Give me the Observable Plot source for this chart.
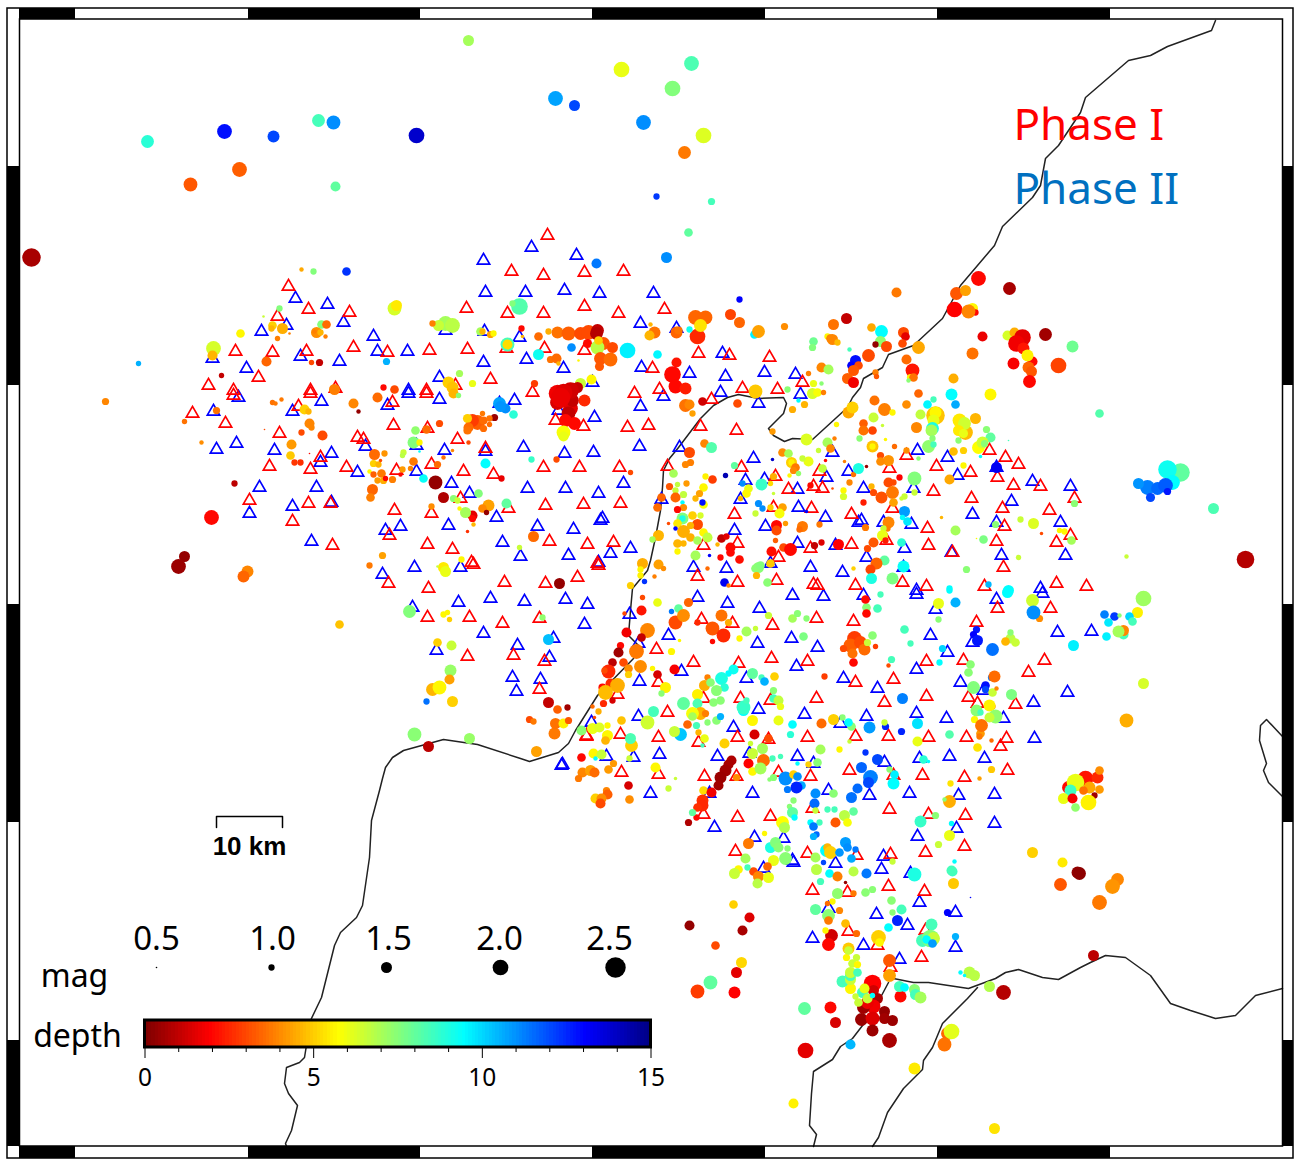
<!DOCTYPE html>
<html>
<head>
<meta charset="utf-8">
<script src="https://cdn.jsdelivr.net/npm/d3@7"></script>
<script src="https://cdn.jsdelivr.net/npm/@observablehq/plot@0.6"></script>
<style>html,body{margin:0;padding:0;background:#fff}svg{display:block}</style>
</head>
<body>
<div id="chart"></div>
<script>
// Map units: grid easting / southing.
const coastMain = [[1215,20],[1211,30],[1167,46],[1150,55],[1128,60],[1085,97],[1080,112],[1058,145],[1045,158],[1040,185],[1032,197],[1002,226],[994,245],[960,285],[942,318],[913,345],[888,354],[882,367],[863,378],[860,387],[852,397],[847,407],[812,439],[792,438],[784,441],[773,435],[768,428],[783,413],[786,403],[783,397],[758,398],[738,394],[727,397],[713,405],[700,418],[678,447],[669,458],[663,470],[662,487],[660,510],[655,537],[650,560],[647,570],[632,588],[630,610],[628,635],[638,645],[633,658],[597,695],[575,730],[568,743],[558,752],[529,761],[520,758],[477,744],[443,739],[403,750],[392,757],[385,767],[382,778],[379,790],[371,820],[369,857],[362,905],[356,917],[340,932],[334,945],[321,997],[310,1020],[304,1057],[299,1062],[286,1067],[284,1083],[288,1093],[297,1105],[291,1130],[285,1143],[286,1146]];
const coastSouth = [[888,982],[880,997],[862,1025],[852,1038],[840,1046],[832,1059],[813,1071],[811,1093],[809,1125],[816,1134],[813,1146]];
const coastGulf = [[977,987],[967,998],[942,1023],[932,1047],[923,1060],[922,1069],[903,1088],[887,1112],[878,1137],[872,1146]];
const coastEast = [[893,978],[913,982],[928,982],[968,988],[995,978],[1005,972],[1018,969],[1042,977],[1058,979],[1080,967],[1090,962],[1105,955],[1125,957],[1150,975],[1170,1003],[1190,1010],[1215,1018],[1235,1015],[1255,995],[1282,988]];
const coastIsle = [[1282,736],[1266,719],[1260,725],[1259,740],[1266,763],[1263,770],[1268,782],[1282,796]];

const stationsPhaseI = [[288,286],[308,309],[349,312],[277,316],[235,351],[272,352],[306,351],[353,347],[387,352],[429,350],[258,377],[208,385],[233,390],[310,390],[335,388],[426,390],
[192,413],[225,423],[233,395],[279,433],[298,406],[310,393],[357,437],[363,439],[320,457],[269,466],[310,469],[346,467],[392,402],[426,393],[393,425],[427,428],[457,439],[396,470],[431,464],[463,471],[493,474],[543,467],[579,467],[532,392],[555,420],[583,426],[485,448],[249,500],[308,503],[330,503],[292,521],[332,545],[389,535],[394,510],[431,513],[427,544],[452,549],[460,498],[508,508],[545,505],[583,504],[549,541],[587,544],[471,562],[473,564],[388,583],[428,588],[504,582],[545,583],[577,577],[597,563],[427,617],[469,617],[502,623],[539,618],[467,656],[513,655],[544,661],[539,689],[586,735],
[547,235],[511,271],[543,275],[584,272],[623,271],[466,308],[507,313],[543,313],[584,306],[618,313],[664,309],[506,348],[544,348],[584,350],[467,349],[490,379],[455,385],[652,368],[634,393],[659,389],[698,353],[729,355],[769,357],[802,382],[742,388],[777,389],[711,399],[627,427],[648,425],[700,426],[736,430],[667,466],[741,467],[775,476],[819,471],[813,486],[822,488],[788,489],[619,467],[620,503],[734,514],[811,508],[851,514],[773,507],[737,543],[703,545],[810,548],[851,544],[778,557],[697,576],[737,582],[776,580],[813,584],[817,585],[855,585],[598,565],[613,542],
[906,455],[936,466],[989,450],[1005,457],[1018,464],[889,468],[970,472],[997,477],[1013,485],[1040,486],[933,491],[971,498],[1074,498],[1002,508],[1049,510],[892,508],[927,528],[1004,526],[886,540],[928,545],[952,552],[996,541],[1056,542],[1070,535],[1003,567],[902,582],[926,586],[984,586],[1056,583],[1086,586],
[701,619],[732,623],[772,625],[816,618],[853,621],[656,649],[693,662],[738,663],[771,658],[807,661],[926,661],[658,682],[855,682],[893,679],[816,698],[884,702],[926,696],[703,698],[740,698],[770,700],[667,712],[617,694],[620,734],[658,737],[698,742],[737,737],[768,739],[807,737],[855,736],[888,736],[928,737],[586,736],[621,772],[658,774],[704,776],[736,776],[778,772],[810,776],[849,770],[893,775],[922,775],[889,809],[703,814],[737,817],[770,816],[812,808],[735,851],[807,853],[856,855],[890,854],[925,852],[812,890],[847,892],[888,886],[924,891],
[997,608],[1050,608],[976,622],[963,660],[1044,660],[1028,672],[968,697],[977,703],[1015,704],[966,737],[1006,738],[1000,746],[964,777],[1007,770],[928,814],[965,815],[964,846],
[848,931],[877,945],[921,957],[890,967],[925,930]];

const stationsPhaseII = [[295,298],[327,304],[343,322],[286,325],[261,331],[373,336],[212,358],[300,356],[339,361],[377,351],[407,351],[246,368],[408,390],
[213,411],[238,397],[292,411],[321,401],[387,405],[408,393],[439,399],[236,443],[216,449],[274,450],[365,446],[331,453],[320,462],[357,472],[416,471],[444,450],[416,445],[485,451],[523,447],[564,453],[593,452],[514,400],[499,403],[594,417],[558,410],[259,487],[316,487],[292,506],[331,502],[249,513],[311,541],[451,483],[469,493],[527,488],[565,488],[598,493],[400,526],[385,530],[448,525],[496,517],[537,526],[573,529],[600,520],[502,542],[520,556],[568,555],[598,562],[414,567],[460,567],[382,574],[412,607],[458,602],[490,598],[524,601],[565,599],[587,604],[584,624],[483,633],[517,645],[553,638],[549,657],[436,650],[512,677],[540,679],[516,691],[561,765],
[531,247],[576,255],[483,260],[485,292],[525,292],[564,290],[599,293],[653,293],[640,323],[676,328],[445,330],[484,331],[519,337],[722,353],[526,359],[483,362],[563,368],[641,367],[689,373],[725,376],[764,372],[795,374],[439,377],[592,382],[720,392],[800,394],[663,396],[640,406],[758,403],[639,446],[679,447],[753,458],[832,452],[848,471],[745,480],[764,479],[826,477],[623,483],[797,489],[740,499],[661,499],[798,507],[602,518],[825,517],[858,522],[734,530],[765,526],[610,553],[630,548],[693,567],[726,568],[797,543],[835,545],[810,567],[842,572],[770,563],
[917,450],[947,457],[957,475],[996,467],[1032,481],[1070,486],[913,488],[863,488],[1011,501],[972,514],[1060,522],[996,522],[911,524],[883,522],[861,520],[904,548],[951,552],[866,557],[1001,555],[1065,555],[903,567],[1040,588],[916,590],
[629,614],[697,597],[727,603],[759,608],[792,595],[823,596],[863,595],[916,594],[668,635],[757,643],[791,638],[817,647],[638,643],[930,635],[796,666],[916,669],[639,681],[843,678],[681,671],[746,678],[877,688],[758,709],[804,714],[866,716],[916,713],[638,716],[591,722],[840,723],[733,727],[717,756],[659,754],[633,757],[606,756],[562,764],[797,756],[749,753],[813,763],[884,762],[919,758],[650,793],[828,790],[869,795],[909,793],[709,793],[752,793],[714,827],[754,837],[783,838],[792,860],[835,863],[883,856],[881,869],[910,873],[763,868],[917,836],[919,902],[828,908],[876,914],[907,925],
[935,609],[996,599],[1042,593],[1057,632],[1091,631],[972,642],[947,652],[960,682],[1067,692],[983,690],[1033,702],[946,718],[1003,718],[1034,738],[949,756],[984,758],[958,795],[994,794],[956,828],[994,823],[955,912],
[793,862],[812,938],[863,945],[955,947],[899,959]];

// [easting, southing, magnitude, depth km]
const quakes = [
[147,141,1.7,8.8],[224,131,1.9,12.8],[273,136,1.6,12],[318,120,1.7,8.4],[333,122,1.8,11],[416,135,2,13.8],[190,184,1.8,3.2],[239,169,1.9,3.3],[335,186,1.4,8],[31,257,2.3,.6],[301,269,.8,4.4],[313,271,1,7.5],[346,271,1.25,12.3],[394,308,1.8,6.3],[396,305,1.5,5.4],[279,308,1,7.5],[263,316,.6,6.5],[272,325,1.25,5],[282,328,1.5,4.5],[240,333,1.25,5.6],[271,328,1,4.6],[289,333,.6,3.8],[277,338,.9,3.8],[321,324,1.25,7.5],[326,324,1.25,3.5],[316,332,1.5,4],[320,332,1,4.6],[314,331,.8,3.8],[325,336,.8,3.8],[213,348,1.9,6.3],[212,355,1.4,4.6],[138,363,.9,10.5],[266,361,1.4,3.4],[221,375,.9,1],[311,362,.9,3],[319,362,1.1,1],[386,361,1.1,10.5],[383,387,1,2],[394,389,1.25,3],[334,389,1.5,3.8],[105,401,1.1,3.9],
[468,40,1.5,7],[621,69,2,6],[691,63,1.9,8.3],[672,88,2,7.5],[555,98,1.9,10.7],[574,105,1.5,12],[643,122,1.9,11],[703,135,2,6.2],[684,152,1.7,3.7],[656,196,1,12.2],[711,201,1.1,8.4],[688,232,1.25,8],[666,257,1.5,11],[596,263,1.4,11.3],[739,299,1,13],[896,292,1.4,3.7],[978,278,1.9,2],[1009,288,1.7,.6],[956,293,1.7,3.2],[965,290,1.5,4.3],
[519,306,2.1,8.2],[512,303,1,7.5],[445,323,1.9,7],[452,325,1.9,6.7],[438,325,1.5,6.5],[432,323,1,3.8],[480,331,1.25,7],[482,331,1,4.6],[490,334,1.1,4.3],[493,333,1,5.6],[507,344,1.8,8.4],[507,344,1.4,5.2],[521,328,1,2],[522,336,.7,4.6],[538,354,1.5,9.2],[538,336,1.25,3.5],[548,331,1,4.5],[571,347,1.25,11],
[557,332,1.6,3.6],[568,333,1.8,3.3],[580,333,1.7,3],[588,332,1.9,3],[597,330,1.7,1],[596,333,1.7,.8],[587,343,1.3,2],[603,343,1.7,3.2],[612,347,1.5,3],[597,347,1.8,6.7],[598,340,1.25,5],[600,358,1.7,3.2],[610,359,1.8,3.5],[599,366,1.3,3.2],[627,350,2,9.6],[550,359,1.1,3.6],[556,358,1.4,3.5],[558,363,.8,4.6],[578,360,.6,5.6],[657,354,1.25,9.5],[676,362,1.4,2.2],[672,374,2.1,2],[675,386,1.8,2],[685,388,1.6,2.3],[650,324,.8,4.6],[654,332,1.6,3.6],[649,335,1.4,4.6],
[695,317,1.9,3.4],[705,317,1.8,3.4],[697,336,2,2.5],[700,325,1.7,5.3],[689,329,1,9.2],[676,332,1.6,3.4],[678,330,1.2,3.6],[730,314,1.5,2.9],[739,322,1.5,3.4],[754,334,1.25,9.6],[758,331,1.7,4.3],[784,326,1.1,4],[833,324,1.5,3.6],[846,318,1.5,1],[827,336,1,5.6],[830,338,1.25,3.8],[832,339,1.5,3.9],[837,342,1,4.7],[813,341,1.25,7.8],[812,347,1.1,7.5],[849,349,.8,8.4],[855,360,1.5,12.8],[851,365,1.25,13],[858,365,1.25,3],[853,370,1.5,3.2],[847,378,1.5,3.3],[853,382,1.5,1.7],[821,367,1.4,3.9],[828,369,1.4,7],[808,373,.9,3.8],[813,383,1.1,6],[821,383,.8,7.4],[812,393,1.5,6.3],[817,392,1.25,5.8],[823,392,.9,3.8],[804,404,1.1,4.6],[787,389,1,7.4],[798,400,.8,9.4],[792,409,1.1,4.5],[848,412,1.6,4.4],[852,407,1.6,5],[836,424,.9,5.6],[859,438,1,7.4],[806,439,1.6,6.2],[772,431,1,4.2],[827,442,1.4,7],[834,438,.8,3.8],[830,448,1.25,3.9],[818,450,.9,6.5],
[755,391,1.8,4.9],[737,403,1.25,3],[702,401,1.25,1.2],[692,413,1,4.3],[685,405,1.7,3.6],[689,404,1.4,3.9],[704,443,1.25,3.9],[711,447,1.5,8.2],[689,452,1.5,3],[690,462,1.1,3.8],[685,464,1.1,3.9],[734,465,1.1,8],[725,475,.9,14.2],[673,473,1.25,7],[712,479,1.25,2.8],[705,476,1,5.5],[703,487,1.25,5.6],[686,483,1,4.2],[677,484,.9,6.6],[669,486,1.1,3.2],[675,490,1,6.5],[683,494,1.1,6.6],[675,497,1.4,3.4],[695,498,1,4.6],[699,493,1.1,4.3],[661,497,1.25,3.4],[657,507,1.25,3.5],[703,504,1.25,5.8],[702,502,1,12.8],[682,502,.8,9.4],[683,507,1.1,4],[677,509,1.1,2],[700,515,1,6.3],[682,518,1.6,7.5],[682,518,1,9],[692,515,1.25,5],[697,524,1.5,3],[690,525,1.1,4.6],[677,523,1.25,5.4],[683,531,1.7,4.5],[703,532,1.25,5.6],[707,537,1.4,6.6],[690,537,1.25,4.5],[697,540,1.25,7],[677,543,1.25,4.6],[683,543,1,4.6],[677,551,1,5.6],[695,555,1.4,7],[658,535,1.5,4.6],[652,539,1,7],[668,523,.7,3],[642,563,1.5,4.5],[658,564,1.4,4.3],[663,568,.9,4],[640,569,1,5.6],[640,575,1,5.5],[654,576,.8,3.8],[644,581,.9,12.3],[630,585,1.1,5],[675,528,.8,13],
[717,544,.8,4.6],[721,538,1.25,1],[726,536,1,1.5],[730,547,1.4,2],[730,552,1.25,2],[720,557,1,2],[739,559,1.25,2.1],[709,555,.7,13],[707,568,.8,3.5],[724,582,1.25,13.2],[728,585,.8,3.8],[771,551,1.4,2.1],[783,547,1.25,3],[790,549,1.7,2],[814,545,1.1,1],[821,542,1,1.4],[838,544,1.5,1.9],[853,568,.8,5],[776,525,1.5,2],[776,530,1.4,3],[775,540,.9,3.3],[802,526,1.5,3.7],[799,529,1,3.5],[819,524,1,3.7],[785,523,.9,4.2],
[758,503,1.1,11],[762,508,1,11],[770,507,1,5],[782,507,1.25,4.3],[779,513,1.4,5.8],[755,513,1,6.5],[806,511,.7,13],[761,484,1.6,8.6],[742,483,1,11],[748,488,1.25,6],[746,493,1.25,5.6],[740,498,.9,4.6],[770,483,.9,5.2],[773,476,1.1,4.5],[789,475,.8,5.6],[773,493,.7,6.5],[772,459,.7,13.8],
[782,452,1.25,4],[788,453,1.25,7],[791,462,1.5,5],[791,462,1,5.5],[795,467,1.25,3.7],[793,470,1.1,3.9],[798,473,.9,7.3],[808,461,1.4,6],[802,458,1,6.5],[822,468,1.25,6.6],[810,485,1,2],[832,488,.6,3],[825,460,.7,2],[844,461,.7,3.8],[853,474,.9,3.6],[858,468,1.5,9],[849,482,1,3.9],[843,490,1,5.6],[843,496,1.1,6.3],
[758,567,1.5,7.4],[755,568,1.25,7.4],[760,565,1.25,7.5],[770,563,1.25,4.9],[767,582,1.25,7.4],[756,575,1.1,4.6],
[448,382,1.6,5],[452,387,1.6,4.8],[453,393,1.4,4.6],[459,373,1.1,7],[472,383,1.1,6],[458,395,.9,7.4],[534,383,1.1,2.8],[580,383,1.5,6.5],[591,379,1.4,5.6],
[577,387,1.5,1],[557,402,1.9,1.3],[570,408,1.9,1.5],[572,400,1.7,1],[570,390,2.1,1.2],[557,393,2.2,1.7],[563,392,2.2,1.4],[560,397,2.4,1.6],[567,413,1.5,1],[568,413,1.8,1],[565,420,1.7,2],[574,423,1.7,2],[584,400,1.6,2.5],[563,432,1.8,5.8],[563,436,1.4,6],
[499,403,1.7,10.7],[505,408,1.4,11],[500,406,1.5,10.9],[513,414,1.25,8.8],[494,417,1.1,.4],[477,422,1.9,3.3],[472,420,1.7,2.8],[483,420,1.2,3.5],[467,418,1.3,5],[482,413,.9,3.7],[489,424,.9,3.5],[468,427,1.4,3.5],[467,430,1.2,3.6],[483,428,1.1,3.5],[489,418,1,3.6],[439,423,1.1,3],[468,442,.8,3],[452,450,.7,3.9],[443,457,.8,3.5],[437,464,1.1,3.5],[485,463,1.4,9.4],[531,459,1,8.6],[556,459,1,3],[630,472,.9,3],[501,478,1,1.6],[435,482,1.8,.3],[443,497,1.5,.7],[453,498,1.1,7.4],[457,500,1,6.5],[478,493,1.25,7.5],[488,505,1.6,4.3],[482,508,1.25,3.9],[506,503,1.4,8],[472,515,1.4,1.5],[472,518,1.1,2],[465,512,1.5,7],[459,508,.8,5.6],[486,512,.9,.3],[473,524,.8,4.6],[467,531,.7,2.6],[431,506,1,4],[533,536,1.5,3.5],[519,547,.9,6.5],[461,559,1,5.6],[443,567,1.5,5.4],[445,571,1.5,6],[559,583,1.5,.3],[437,566,.6,6.5],
[216,410,1.1,3.6],[184,421,.9,3.6],[201,442,.8,4],[264,429,.5,3],[272,402,.9,3.6],[275,403,.8,3.7],[281,399,.8,3.7],[304,409,1.4,5],[308,411,1,4.6],[309,423,1.4,3.9],[311,427,1,3.9],[301,432,1,3],[322,435,1.4,3],[291,444,1.4,4.2],[290,455,1.25,4.9],[309,453,.5,2],[294,462,1,2.7],[300,462,1,2.6],[234,483,1,.9],[211,517,1.9,2],[184,556,1.5,.3],[178,566,1.9,.4],[247,571,1.6,3.9],[243,576,1.6,3.4],[339,624,1.25,4.8],
[353,403,1.4,3.9],[358,411,.8,.3],[377,397,1.4,3.5],[374,454,1.5,3.5],[384,453,1,4.1],[373,463,1.1,5],[378,464,1,4.6],[380,460,.7,3],[369,471,.8,5.6],[373,474,1,3.3],[381,473,1.25,3.7],[377,480,1,4.2],[383,480,1.1,4.5],[392,479,1.1,3.8],[385,478,.9,2],[400,474,.8,2],[372,489,1.5,3.4],[370,497,1.25,3.8],[410,468,.9,3.9],[402,469,1,4.2],[403,452,1,6.5],[402,455,.9,6.7],[415,430,1.25,7.3],[426,429,1.25,3.5],[413,442,1.6,7.5],[419,442,1,5.6],[419,451,.6,9.4],[413,461,1.25,3.7],[423,478,1.25,9.3],[382,555,1.1,4.3],[369,565,1,3.7],
[409,611,1.7,7.5],[443,614,1,5.6],[447,612,.9,5.6],[449,619,.9,5],[542,617,1,7.3],[548,639,1.5,10.3],[437,642,1.25,5],[451,645,1.4,6.5],[450,670,1.6,7.2],[449,679,1.4,4.3],[432,689,1.7,4.6],[439,687,1.8,5.6],[426,701,1,11.4],[452,701,1.5,5],[414,734,1.8,7.4],[428,746,1.5,.9],[469,738,1.5,7.2],[548,702,1.5,1],[567,707,1,.5],[557,709,1.25,3.3],[529,719,1.1,3],[533,721,1,3.7],[554,733,1.6,3.7],[555,723,1.5,3.6],[563,723,1.4,5.5],[568,720,1.1,3.2],[536,751,1.5,4.3],
[641,610,1.4,2.2],[642,597,.9,3],[657,602,1.25,6],[671,611,.9,11.3],[678,608,1.25,8],[675,622,1.8,3],[683,615,1.7,4],[688,602,1.3,3.4],[647,630,1.9,3.9],[641,637,1.25,1],[626,632,1.4,1.7],[624,613,.8,3],[636,651,1.9,3.7],[620,645,1.1,2],[618,652,1.4,.5],[612,662,1.25,.9],[623,662,1.25,3],[608,671,1.8,2.5],[628,668,1.25,4],[640,666,1.7,4],[604,670,1,3],[610,683,1.4,2.5],[602,687,1.2,2],[617,685,1.9,4.5],[605,692,1.9,4.7],[603,703,1.1,2.5],[612,700,1,1.3],[628,674,1.1,5],[652,668,.9,5.6],[657,674,1.25,1.3],[674,669,1.4,1.8],[665,687,1.5,5.5],[661,693,1,7.4],[671,651,1.1,5.6],[679,640,.7,5.6],
[697,622,1,2.5],[712,628,1.8,3.2],[721,615,1.6,3.6],[723,635,1.8,2.5],[712,641,.9,2],[728,622,1.1,4.5],[739,638,1,5.6],[746,631,1.4,7],[755,628,.9,6.5],[768,615,1.1,6.5],[792,618,1.25,7],[797,613,1.1,7.4],[806,618,1,7.4],[803,636,1.25,7.6],
[752,673,1.5,8],[733,669,1.4,9.2],[728,673,1,9.4],[721,678,1.7,9],[724,687,1.25,8.8],[761,677,1,8.4],[764,681,1.25,10.5],[774,676,1.25,5],[704,685,1.5,4.5],[707,677,1,3.8],[710,682,1.25,7.4],[716,690,1.5,7.4],[720,700,1.25,7.4],[713,702,1.25,7.4],[697,694,1.5,5.5],[683,703,1.7,8],[697,703,1.4,8.3],[700,713,1.7,4.6],[692,713,1.7,5.8],[705,713,1.1,3.8],[692,716,1.25,7],[707,722,1,7.4],[716,720,1.25,7.4],[720,716,1.1,10.5],[687,724,1.25,3.4],[696,725,1.1,8.4],[698,732,1,4.6],[704,738,1.25,6],[702,745,.8,8.4],[680,734,1.7,10.2],[674,731,1.5,6.5],[647,722,1.8,6.4],[653,711,1.5,8.4],[621,720,1.25,4.8],[598,711,1,4.5],[592,706,.8,3.5],[594,717,.7,3],
[581,730,1.4,7.4],[592,728,1.5,6],[599,727,1.4,6.2],[607,725,1,5.6],[607,735,1.5,5.6],[605,740,1.25,4.6],[631,745,1.7,5],[630,738,1.5,8.3],[581,757,1.25,2],[593,753,1.4,5.6],[601,754,1.4,6.5],[595,758,.8,9.4],[629,758,1,6.5],[582,772,1.4,3.9],[578,778,1.1,3.7],[590,770,1.5,4.3],[594,772,1.4,3.5],[613,763,1.1,4.2],[608,769,1.25,4.2],[655,767,1.4,5.6],[675,778,.7,6.5],[628,785,1.25,1.3],[668,788,1,6.5],[606,790,1.1,3.9],[607,794,1.4,3.3],[595,798,1.4,5],[601,798,1.4,4],[600,803,1.4,3],[629,799,1.25,4],
[731,760,1.4,.7],[728,764,1.4,.6],[725,770,1.6,.5],[720,777,1.6,.4],[718,785,1.4,.5],[703,790,1.25,5.2],[711,792,1.4,1.7],[702,800,1.6,2.6],[702,805,1.6,2.5],[697,807,1.25,2.6],[696,817,1,2],[692,812,1.1,8],[688,822,1.1,.7],[736,777,1.1,4],[748,763,1.4,1.9],[754,734,1.4,1.3],[724,743,1.4,5],[768,738,1.25,3],[752,753,1.5,6.5],[750,743,.9,6.5],[762,748,1.5,7],[763,760,1.7,3.5],[752,771,1.25,5.6],[760,768,1.6,7],[772,758,1,8.4],[780,756,.9,8.4],[769,779,.8,7.4],[773,777,1.1,7.4],[785,778,1.8,11],[793,774,1.25,5],[797,776,1.25,11],[797,763,.8,9.4],[808,764,1,5],[817,762,1.25,7.4],[801,785,1.25,10.6],[796,787,1.6,12.5],[787,789,1.1,11.3],[815,793,1.4,11],[814,803,1.4,11.5],[833,793,1.25,7.4],[793,800,1,7.4],[789,806,.9,7.4],[792,812,1.5,8],[794,817,1,9.4],[815,810,1,6.5],[827,809,1,8.4],[834,809,1,8.4],[853,811,1.25,8],[844,815,1.5,6.7],[847,822,1.25,5.8],[835,822,1.4,3.2],[819,822,1,8.4],[810,822,1,9.4],[813,826,1.25,11.3],[816,834,1,11.5],[813,836,1.1,10.5],
[861,767,1.5,11.6],[877,759,1.5,12],[865,752,1,12.3],[870,777,1.9,11.2],[868,782,1.5,12],[857,788,1.4,11.5],[851,797,1.5,11.4],[893,783,1.6,9.4],[894,774,1.25,9.6],[889,769,1,7.4],[902,698,1.5,11.2],[917,723,1.5,9.8],[869,727,1.6,10.8],[885,726,1.1,12.5],[884,722,1,6.5],[901,731,1.1,12.5],[917,741,1.4,6],[821,723,1.4,3.5],[792,724,1.25,9.4],[790,734,1.1,8.8],[833,719,1.5,5],[842,717,1,7.4],[851,726,1.25,7.4],[848,722,1.25,9.4],[820,749,1.4,7],[839,749,1,5.6],[849,741,.8,6.5],[773,690,1.1,7.4],[773,698,1.25,8.4],[778,700,1.4,6.6],[780,706,1.1,6],[778,720,1.4,6],[752,720,1.5,5.6],[743,710,1.5,9.4],[743,707,1.8,8.6],[746,700,1,8.4],
[877,608,1.25,8.4],[866,607,1.25,7.4],[866,613,1.25,2],[865,599,1.25,2],[880,594,1,8.4],[904,629,1.25,8.4],[872,635,1.25,7.4],[891,659,1.1,8.4],[888,665,.8,3],[910,643,1,8.4],[854,638,1.9,2.8],[850,645,1.8,3.3],[860,642,1.7,3],[864,649,1.6,3.5],[843,648,1.1,3],[852,653,1.4,3.6],[867,642,1.1,6.5],[875,646,.9,2.8],[853,662,1.25,2],[824,676,1,2.8],
[782,822,1.7,5.7],[784,827,1.5,6.8],[764,833,.9,5.6],[770,847,1.5,9],[775,842,1.5,7.5],[778,847,1.4,7.4],[787,848,1,7.4],[748,843,1.5,3.7],[745,858,1.4,7],[773,860,1.5,6],[785,858,1.7,7.4],[767,866,1.25,3.4],[753,871,1.25,3],[747,867,1,8.4],[738,869,1.25,5.6],[734,873,1.5,6.5],[758,876,1.5,3.9],[768,877,1.5,6],[757,883,1.4,6.7],[816,869,1.5,6.7],[823,862,.9,12],[829,873,1.25,9.4],[837,876,1.4,3.8],[820,881,1.1,8.4],[845,882,.7,.3],[853,871,1.4,6.7],[866,873,1.4,11.3],[914,874,1.8,9],
[826,850,1.7,9.4],[827,847,1.25,4.6],[830,852,1.7,5],[845,842,1.5,10.8],[839,852,1.25,10.9],[847,847,1.25,11],[855,849,1,11.3],[851,858,1.25,10.6],[815,857,1.4,7],[892,861,1,6.5],[837,893,1.5,7.3],[832,901,1,5.6],[853,893,1,3.7],[865,892,1.25,7.4],[872,889,1.1,7.4],[827,903,.9,3.5],[839,910,1.1,3.9],[815,909,1.5,8],[828,915,1.7,7.4],[828,920,1.25,3.7],[845,923,1.25,4.7],[891,900,1.25,7.4],[901,909,1.4,8.4],[892,912,1,7.4],[897,920,1.5,12.5],[888,927,1.25,9.4],
[733,904,1.25,5],[749,917,1.4,1.4],[689,925,1.4,.3],[742,930,1.4,.6],[715,945,1.25,3],[741,962,1.5,5.1],[736,972,1.5,1.5],[710,982,1.8,8],[697,991,1.8,2.8],[734,992,1.6,1.9],[804,1008,1.7,8],[830,1007,1.6,2],[835,1022,1.5,1.3],[805,1050,2,1.5],[850,1044,1.4,10.4],[793,1103,1.4,5.5],[914,1068,1.6,5.4],[994,1128,1.5,5.3],[1003,992,1.9,.8],[947,1033,1.7,3.4],[951,1031,2,6.1],[944,1044,1.8,3.6],[989,986,1.5,6.8],[969,972,1.6,6.7],[974,975,1.5,6.7],[960,972,.8,9.4],[964,975,.7,9.4],[1077,872,1.6,.3],[1060,884,1.7,3.2],[1062,862,1.25,5.3],
[889,960,1.7,3.2],[889,975,1.7,4.3],[872,983,2.2,1.9],[900,996,1.6,2],[899,986,1.5,8.4],[904,987,1.25,9.4],[914,989,1.5,7.4],[915,994,1.5,8.4],[920,997,1.6,7],[850,988,1.5,5.6],[842,981,1.6,8.4],[850,979,1.5,6.5],[850,975,1.5,8.4],[850,972,1.5,6.5],[857,972,1.25,8.4],[852,963,1.25,6.5],[857,964,1.1,5.6],[856,957,1.1,6.5],[846,957,1.1,5.6],[848,948,1.6,4.9],[848,950,1.25,6.5],
[873,990,1.5,1.2],[877,998,1.5,.6],[873,1006,1.8,1.7],[863,1007,1.7,.5],[884,1011,1.5,.3],[884,1018,1.5,.5],[892,1020,1.5,.4],[861,1019,1.7,.4],[872,1018,1.8,1.4],[872,1030,1.6,.4],[889,1040,1.9,.6],[867,1002,1.7,1.6],[862,992,1.5,8.4],[867,998,1.4,6.5],[864,988,1.4,6],[855,996,1,6.5],[858,1002,1.25,6.5],[872,995,.9,9.4],
[831,935,1.7,1.2],[828,944,1.7,2],[856,933,1.1,3.5],[825,930,1,5.6],[878,937,1.9,5],[879,942,1.25,5.6],[931,924,1.6,8.4],[922,940,1.7,8.4],[930,938,2.2,7.5],[933,938,1.7,6.5],[926,939,1.25,9.4],[932,943,1.25,10.8],[955,936,1.1,10.5],[947,912,1.1,13],[970,897,.5,13],[953,883,1.5,4.9],[952,871,1.4,8.5],[954,861,.8,9.4],
[938,603,1.5,6],[955,602,1.4,10.5],[949,590,1,9.4],[1007,592,1.5,9.4],[1032,600,1.7,6.4],[1039,618,1.1,4],[1033,612,1.8,11],[938,619,1,7.4],[1143,598,2,7.1],[1137,612,1.5,5.5],[1104,614,1.25,11.2],[1114,616,1.25,12.2],[1119,615,.8,7.4],[1129,616,1.25,10],[1108,622,1.25,9.7],[1132,621,1.25,8.4],[1106,636,1.25,9.6],[1123,634,1.4,8.4],[1123,630,1.5,3.9],[1118,631,1.6,7],[1073,645,1.5,9.6],[1143,683,1.5,6.3],[1126,720,1.8,4.5],
[976,629,1.1,12.7],[973,634,1.1,13],[977,640,1.5,12.7],[992,649,1.7,11.4],[942,648,1.1,10],[939,662,1,9.4],[1010,638,1.4,6.7],[1005,641,1.25,4.6],[1015,642,1.25,6.5],[1010,632,1,7.4],[970,664,1.25,7.4],[968,672,1.25,7.4],[991,677,1.1,11.3],[994,676,1.6,3.5],[985,685,1.25,12.8],[985,689,1.1,12],[973,687,1.7,7.5],[992,692,1.25,6.5],[996,688,.8,3.9],[1011,694,1.5,7.6],[992,706,1,3.8],[989,705,1.6,5.5],[976,710,1.6,7.4],[980,712,1,8.4],[974,719,1.1,5.6],[995,716,1.8,7.3],[989,717,1.4,6.5],[980,733,1.25,4.2],[981,725,1.7,3.6],[979,736,1,3.7],[991,740,.8,3.5],[977,747,1.25,5.3],[949,734,1.25,8.2],[923,759,1.25,8.8],[928,761,.7,9.4],
[991,769,1.1,4.9],[979,778,.8,4.3],[950,783,1,5.3],[949,801,1.7,4.5],[944,799,.8,7.4],[935,815,1.1,7.4],[920,821,1.6,8.6],[951,823,.9,9.4],[949,835,1.5,6],[938,844,1.1,6.5],[951,870,1.4,8.4],
[1068,787,1.7,2],[1085,778,2,2.2],[1097,777,1.6,2.5],[1099,770,1.25,4],[1075,782,2.2,6],[1089,787,1.6,4.4],[1099,789,1.25,4.2],[1083,790,1.25,3.6],[1070,790,1.6,8.5],[1063,798,1.5,6],[1072,798,1.4,1.8],[1094,795,1,.5],[1088,802,2,5.5],[1075,807,1.25,7.3],
[1032,852,1.5,5],[1062,862,1.4,5.4],[1079,873,1.7,.2],[1117,879,1.7,3.9],[1112,886,1.9,4.1],[1099,902,1.9,3.7],[1093,955,1.5,.9],
[982,336,1.4,1.6],[903,332,1.5,3],[905,336,1.25,1.5],[902,343,1.25,3],[871,327,1.25,4.4],[881,331,1.7,9.4],[880,341,1.5,7.3],[886,346,1.5,3],[875,344,1,.3],[918,347,1.7,4.4],[868,355,1.7,3],[906,359,1.4,3.5],[912,370,1.8,2.2],[910,377,1.1,5.6],[913,377,1.25,3.6],[908,380,.8,7.4],[875,372,1,3.8],[876,376,.9,3.2],
[954,309,2,1.9],[972,308,1.5,5.6],[975,312,1,2],[968,311,1.8,3.9],[1007,335,1.4,6.3],[1014,332,1.4,4.5],[1022,337,2.1,1.5],[1016,343,2.1,1.7],[1023,348,1.6,2.2],[1045,334,1.7,.5],[1072,346,1.6,7.8],[1032,361,1.4,2],[1027,355,1.6,5.5],[1013,363,1.6,1.8],[1028,367,1.6,3.4],[1031,371,1.5,3.2],[1029,381,1.7,2],[1058,365,2,2.9],[972,353,1.6,3.6],[953,378,1.4,4.5],[918,393,1.25,3.4],[951,394,1.6,9.4],[955,404,1.25,10.6],[990,394,1.6,5.6],[1099,413,1.25,8.2],
[874,400,1.4,3.6],[906,404,1.25,4],[884,409,1.7,3.8],[892,412,1,5.6],[927,404,1.25,9.5],[933,399,1,8.4],[935,415,2.3,4.8],[935,412,1.6,5.6],[933,420,1.6,6],[932,428,1.7,9],[931,430,1.6,7],[920,414,1.4,6.6],[873,417,1.4,6.5],[916,427,1.5,3.9],[882,425,.7,6.5],[863,423,1.25,3.3],[863,430,1.4,3.6],[872,430,1.25,2.9],[885,439,.7,5.6],[872,446,1.6,4.8],[872,446,1,5.6],[894,446,.9,3.5],[932,438,1,7.4],[928,446,1.7,7.3],[933,444,1,8.4],[958,440,1,7.4],
[959,420,1.8,5.4],[975,418,1.5,4.6],[965,432,1.9,4.7],[964,423,1.7,6.4],[958,430,1.5,5.4],[963,433,1.3,6],[986,429,1.1,7.4],[990,437,1.4,8],[1008,440,.5,8.4],[978,447,1.7,5.7],[982,442,1.6,6.4],[984,443,1.1,7.4],[953,451,1.25,4.7],[963,450,1.1,5],[980,456,.7,9.4],[963,465,1,5.6],[949,479,1.4,4.4],[996,467,1.5,13.2],[918,458,.8,7.4],[906,450,1,4],[880,455,1.1,3],[888,460,1.5,4.1],[880,461,1.25,4],[866,466,.7,.3],[899,477,1,1.9],[888,482,1.4,3],[914,478,1.8,7.5],[893,482,1,3],[871,486,1,4.6],[873,492,1.1,3],[892,492,1.7,3.7],[881,497,1.6,3.1],[863,502,1,2.3],[914,492,1,6.5],[893,502,1.25,4.3],[901,498,.8,6.5],[904,496,1,6.5],
[904,511,1.5,10.8],[902,517,.9,9.4],[907,521,1.25,9.7],[941,517,.7,4.6],[888,522,1.6,3.9],[887,528,1,3.8],[865,527,1.1,3.7],[883,528,1,6.5],[882,535,1.5,6],[955,530,1.4,7],[983,539,1.25,7.6],[976,538,.5,5.6],[995,524,1.1,7.4],[1020,519,1,6.5],[1033,523,1.5,6.2],[1041,533,.7,3],[1059,530,.9,5.6],[1064,531,1,5.6],[1071,540,1.25,7],[1074,503,1.1,7.4],[1126,556,.8,6.5],[1018,557,.9,6.5],[966,569,1.1,7.4],[873,542,1.4,3.2],[867,548,1.1,3],[885,540,1,2.3],[901,542,1.25,8.8],[884,560,1.4,8],[876,563,1.6,3.4],[870,569,1.4,2.9],[903,566,1.6,9.3],[892,578,1.6,7.6],[871,578,1.5,9],[988,584,1,10.4],[1008,590,1.5,9.4],[949,588,1,9.4],
[1180,472,2.3,8],[1167,469,2.3,9.2],[1172,482,1.9,9.4],[1147,487,1.9,11.2],[1138,483,1.5,10.9],[1150,497,1.3,12],[1157,488,1.7,11.5],[1165,485,1.9,11.7],[1167,491,1.1,12.7],[1213,508,1.5,8.3],[1245,559,2.2,.8]
];

const frameBlackX = [[19,75],[248,420],[592,765],[937,1110]];
const frameBlackY = [[166,385],[604,822],[1040,1146]];
const magLegend = [[0.5,156,156],[1.0,272,271],[1.5,388,386],[2.0,499,500],[2.5,609,615]];
const depthTicksMajor = [0,5,10,15];
const depthTicksMinor = [1,2,3,4,6,7,8,9,11,12,13,14];
const depthStops = [0,1.9,5.7,9.4,13,15];
const depthColors = ["#800000","#ff0000","#ffff00","#00ffff","#0000ff","#000080"];

const barX = d3.scaleLinear([0,15],[144.5,650.5]);
const strips = d3.range(0,15,0.1);
const sans = "'Noto Sans',sans-serif";
const fx = d => d[0], fy = d => d[1];

const plot = Plot.plot({
  width:1294, height:1160, margin:0,
  style:{background:"#fff"},
  x:{domain:[0,1294],range:[0,1294],axis:null},
  y:{domain:[0,1160],range:[0,1160],axis:null},
  r:{type:"linear",domain:[0.5,2.5],range:[0.8,10.2]},
  color:{type:"linear",domain:depthStops,range:depthColors,interpolate:"rgb"},
  marks:[
    Plot.line(coastMain,{x:fx,y:fy,stroke:"#222",strokeWidth:1.5}),
    Plot.line(coastSouth,{x:fx,y:fy,stroke:"#222",strokeWidth:1.5}),
    Plot.line(coastGulf,{x:fx,y:fy,stroke:"#222",strokeWidth:1.5}),
    Plot.line(coastEast,{x:fx,y:fy,stroke:"#222",strokeWidth:1.5}),
    Plot.line(coastIsle,{x:fx,y:fy,stroke:"#222",strokeWidth:1.5}),
    Plot.dot(stationsPhaseII,{x:fx,y:fy,symbol:"triangle",r:4.6,stroke:"#0000ff",strokeWidth:1.7,fill:"none"}),
    Plot.dot(stationsPhaseI,{x:fx,y:fy,symbol:"triangle",r:4.6,stroke:"#ff0000",strokeWidth:1.7,fill:"none"}),
    Plot.dot(quakes,{x:fx,y:fy,r:d=>d[2],fill:d=>d[3],sort:null}),
    // phase labels
    Plot.text(["Phase I"],{x:[1013],y:[140],text:d=>d,fill:"#ff0000",fontSize:44,fontFamily:sans,textAnchor:"start",lineAnchor:"bottom",dy:-1}),
    Plot.text(["Phase II"],{x:[1013],y:[204],text:d=>d,fill:"#0070c0",fontSize:44,fontFamily:sans,textAnchor:"start",lineAnchor:"bottom",dy:-1}),
    // scale bar
    Plot.line([[216,827],[216,816],[282,816],[282,827]],{x:fx,y:fy,stroke:"#000",strokeWidth:1.5}),
    Plot.text(["10 km"],{x:[249],y:[855],text:d=>d,fontSize:26,fontWeight:"bold",fontFamily:"'Liberation Sans',sans-serif",fill:"#000",lineAnchor:"bottom",dy:-1}),
    // magnitude legend
    Plot.dot(magLegend,{x:d=>d[2],y:()=>967,r:d=>d[0],fill:()=>"#000",sort:null}),
    Plot.text(magLegend,{x:d=>d[1],y:()=>951,text:d=>d[0].toFixed(1),fontSize:33,fontFamily:sans,fill:"#000",lineAnchor:"bottom",dy:-2}),
    Plot.text(["mag"],{x:[74],y:[985],text:d=>d,fontSize:32,fontFamily:sans,fill:"#000",lineAnchor:"bottom",dy:1}),
    // depth colour bar
    Plot.rect(strips,{x1:d=>barX(d),x2:d=>barX(d+0.1),y1:()=>1020,y2:()=>1047,fill:d=>d,shapeRendering:"crispEdges"}),
    Plot.rect([0],{x1:()=>barX(0),x2:()=>barX(15),y1:()=>1020,y2:()=>1047,fill:"none",stroke:"#000",strokeWidth:3}),
    Plot.ruleX(depthTicksMajor,{x:d=>barX(d),y1:()=>1047,y2:()=>1058,stroke:"#000",strokeWidth:1}),
    Plot.ruleX(depthTicksMinor,{x:d=>barX(d),y1:()=>1047,y2:()=>1052,stroke:"#000",strokeWidth:1}),
    Plot.text(depthTicksMajor,{x:d=>barX(d),y:()=>1087,text:d=>String(d),fontSize:24.5,fontFamily:sans,fill:"#000",lineAnchor:"bottom",dy:-2}),
    Plot.text(["depth"],{x:[77],y:[1046],text:d=>d,fontSize:32,fontFamily:sans,fill:"#000",lineAnchor:"bottom",dy:0}),
    // frame
    Plot.rect([0],{x1:()=>7,x2:()=>1293,y1:()=>8,y2:()=>1158,fill:"none",stroke:"#000",strokeWidth:1.5}),
    Plot.rect([0],{x1:()=>19.5,x2:()=>1282.5,y1:()=>19,y2:()=>1146,fill:"none",stroke:"#000",strokeWidth:1.5}),
    Plot.rect(frameBlackX,{x1:fx,x2:fy,y1:()=>8,y2:()=>19,fill:"#000"}),
    Plot.rect(frameBlackX,{x1:fx,x2:fy,y1:()=>1146,y2:()=>1158,fill:"#000"}),
    Plot.rect(frameBlackY,{y1:fx,y2:fy,x1:()=>7,x2:()=>19.5,fill:"#000"}),
    Plot.rect(frameBlackY,{y1:fx,y2:fy,x1:()=>1282.5,x2:()=>1293,fill:"#000"})
  ]
});
document.getElementById("chart").appendChild(plot);
</script>
</body>
</html>
